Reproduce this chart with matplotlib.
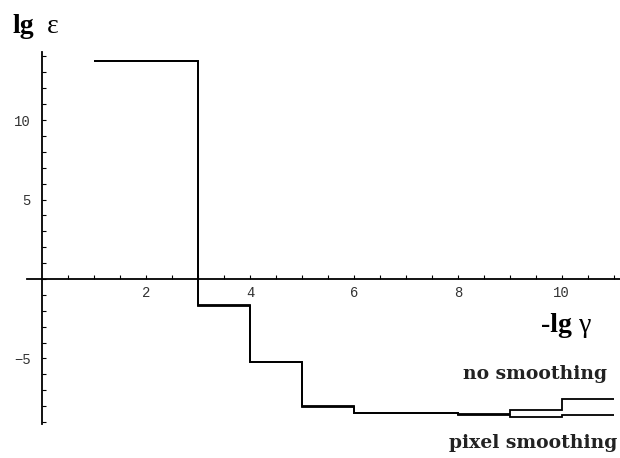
import matplotlib.pyplot as plt
import numpy as np

# step edges (-lg gamma) and level in each interval (lg epsilon)
edges = [1, 3, 4, 5, 6, 8, 9, 10, 11]
no_smooth = [13.7, -1.62, -5.2, -7.98, -8.4, -8.48, -8.25, -7.55]
pixel_smooth = [13.7, -1.70, -5.2, -8.06, -8.4, -8.56, -8.65, -8.55]

xticks = [2, 4, 6, 8, 10]
yticks = [-5, 5, 10]

fig = plt.figure(figsize=(6.2, 4.58), dpi=100)
ax = fig.add_axes([0, 0, 1, 1])
ax.set_xlim(-0.81, 11.12)
ax.set_ylim(-11.26, 17.55)

for vals in (no_smooth, pixel_smooth):
    ax.stairs(vals, edges, baseline=None, color='black', lw=1.3)

# axes through the origin
for s in ('top', 'right'):
    ax.spines[s].set_visible(False)
ax.spines['left'].set_position(('data', 0))
ax.spines['bottom'].set_position(('data', 0))
ax.spines['left'].set_bounds(-9.1, 14.3)
ax.spines['bottom'].set_bounds(-0.3, 11.12)
ax.spines['left'].set_linewidth(1.3)
ax.spines['bottom'].set_linewidth(1.3)

mono = 'Liberation Mono'
ax.set_xticks(xticks)
ax.set_xticks(np.arange(0.5, 11.1, 0.5), minor=True)
ax.set_yticks(yticks)
ax.set_yticks(np.arange(-9, 15, 1), minor=True)
ax.tick_params(axis='x', which='both', direction='in', length=3, width=0.8,
               pad=5, labelsize=10)
ax.tick_params(axis='y', which='both', direction='in', length=3, width=0.8,
               pad=8, labelsize=10)
for lab in ax.get_xticklabels() + ax.get_yticklabels():
    lab.set_family(mono)
    lab.set_color('#333333')

serif = 'Liberation Serif'
# axis labels: bold "lg", plain greek letter
ax.text(-0.57, 15.9, 'lg', fontsize=20, fontweight='bold', family=serif,
        va='center', ha='left')
ax.text(0.1, 15.9, 'ε', fontsize=20, family=serif, va='center', ha='left')
ax.text(9.6, -2.9, '-lg', fontsize=20, fontweight='bold', family=serif,
        va='center', ha='left')
ax.text(10.33, -2.9, 'γ', fontsize=20, family=serif, va='center', ha='left')
ax.text(10.87, -5.95, 'no smoothing', fontsize=13.5, fontweight='bold',
        family='DejaVu Serif', va='center', ha='right', color='#222222')
ax.text(11.06, -10.3, 'pixel smoothing', fontsize=13.5, fontweight='bold',
        family='DejaVu Serif', va='center', ha='right', color='#222222')

fig.savefig('out.png', dpi=100)
